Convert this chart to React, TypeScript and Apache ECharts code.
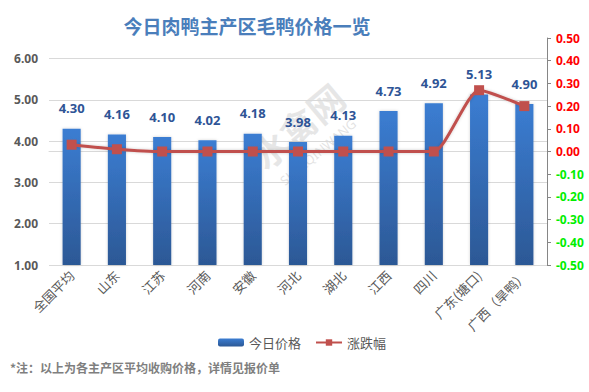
import React, { useEffect, useRef } from "react";
import * as echarts from "echarts";

const categories = ["全国平均", "山东", "江苏", "河南", "安徽", "河北", "湖北", "江西", "四川", "广东(塘口)", "广西（旱鸭）"];
const priceValues = [4.30, 4.16, 4.10, 4.02, 4.18, 3.98, 4.13, 4.73, 4.92, 5.13, 4.90];
const changeValues = [0.03, 0.01, 0, 0, 0, 0, 0, 0, 0, 0.27, 0.20];
const seriesNames = ["今日价格", "涨跌幅"];

export default function App() {
  const ref = useRef<HTMLDivElement>(null);
  useEffect(() => {
    if (!ref.current) return;
    const chart = echarts.init(ref.current, null, { renderer: "svg" });
    const ang = (40 * Math.PI) / 180;
    chart.setOption({
      animation: false,
      backgroundColor: "#ffffff",
      title: {
        text: "今日肉鸭主产区毛鸭价格一览",
        left: 242,
        top: 11,
        textAlign: "center",
        textStyle: { fontSize: 19, fontWeight: "bold", color: "#4a7ebb", fontFamily: "Noto Sans CJK SC" },
      },
      graphic: [
        {
          type: "text",
          x: 297,
          y: 125,
          rotation: ang,
          z: -10,
          style: {
            text: "水禽网",
            font: "bold 36px 'Noto Sans CJK SC'",
            fill: "rgba(185,185,185,0.35)",
            textAlign: "center",
            textVerticalAlign: "middle",
          },
        },
        {
          type: "text",
          x: 318,
          y: 152,
          rotation: ang,
          z: -10,
          style: {
            text: "SHUIQINWANG",
            font: "13px 'Noto Sans'",
            fill: "rgba(185,185,185,0.4)",
            textAlign: "center",
            textVerticalAlign: "middle",
          },
        },
        {
          type: "text",
          left: 10,
          top: 361,
          style: {
            text: "*注：以上为各主产区平均收购价格，详情见报价单",
            font: "bold 12px 'Noto Sans CJK SC'",
            fill: "#7f7f7f",
          },
        },
      ],
      legend: {
        left: 213,
        top: 331,
        itemWidth: 26,
        itemHeight: 8,
        itemGap: 14,
        textStyle: { fontSize: 13, color: "#595959", fontFamily: "Noto Sans CJK SC" },
        data: seriesNames,
      },
      grid: { left: 49, right: 42, top: 38, bottom: 127 },
      xAxis: {
        type: "category",
        data: categories,
        axisLine: { show: true, lineStyle: { color: "#d9d9d9" } },
        axisTick: { show: false },
        axisLabel: {
          rotate: 45,
          interval: 0,
          fontSize: 13,
          color: "#595959",
          margin: 8,
          fontFamily: "Noto Sans CJK SC",
        },
      },
      yAxis: [
        {
          type: "value",
          min: 1,
          max: 6.5,
          interval: 1,
          axisLine: { show: false },
          axisTick: { show: false },
          splitLine: { show: true, showMaxLine: false, lineStyle: { color: "#d9d9d9" } },
          axisLabel: {
            showMaxLabel: false,
            fontSize: 12,
            fontWeight: "bold",
            color: "#595959",
            margin: 11,
            fontFamily: "Noto Sans",
            formatter: (v: number) => (Math.abs(v - 6.5) < 1e-6 ? "" : v.toFixed(2)),
          },
        },
        {
          type: "value",
          min: -0.5,
          max: 0.5,
          interval: 0.1,
          position: "right",
          axisLine: { show: true, lineStyle: { color: "#868686" } },
          axisTick: { show: true, inside: false, length: 4, lineStyle: { color: "#868686" } },
          splitLine: { show: false },
          axisLabel: {
            margin: 9,
            fontFamily: "Noto Sans",
            formatter: (v: number) => {
              const r = Math.round(v * 100) / 100;
              const s = (Math.abs(r) < 1e-9 ? 0 : r).toFixed(2);
              return r < -1e-9 ? "{g|" + s + "}" : "{r|" + s + "}";
            },
            rich: {
              r: { color: "#ff0000", fontSize: 12, fontWeight: "bold", fontFamily: "Noto Sans" },
              g: { color: "#00ee00", fontSize: 12, fontWeight: "bold", fontFamily: "Noto Sans" },
            },
          },
        },
      ],
      series: [
        {
          name: seriesNames[0],
          type: "bar",
          yAxisIndex: 0,
          data: priceValues,
          barWidth: "40%",
          itemStyle: {
            color: new echarts.graphic.LinearGradient(0, 0, 0, 1, [
              { offset: 0, color: "#3b7dd2" },
              { offset: 1, color: "#2c5895" },
            ]),
            shadowBlur: 3,
            shadowColor: "rgba(0,0,0,0.18)",
          },
          label: {
            show: true,
            position: "top",
            distance: 14,
            fontSize: 13,
            fontWeight: "bold",
            color: "#2e5496",
            fontFamily: "Noto Sans",
            formatter: (p: any) => Number(p.value).toFixed(2),
          },
          z: 2,
        },
        {
          name: seriesNames[1],
          type: "line",
          yAxisIndex: 1,
          data: changeValues,
          smooth: 0.2,
          symbol: "rect",
          symbolSize: 10,
          lineStyle: { color: "#c0504d", width: 3, shadowBlur: 3, shadowColor: "rgba(0,0,0,0.2)" },
          itemStyle: { color: "#c0504d" },
          z: 3,
        },
      ],
    });
    return () => chart.dispose();
  }, []);
  return <div ref={ref} style={{ width: 589, height: 392, position: "absolute", left: 0, top: 0 }} />;
}
